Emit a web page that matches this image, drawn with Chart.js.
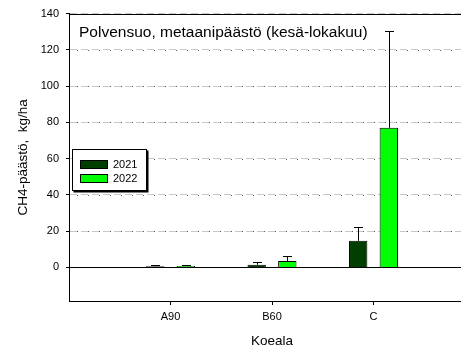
<!DOCTYPE html>
<html>
<head>
<meta charset="utf-8">
<script src="https://cdn.jsdelivr.net/npm/chart.js@4/dist/chart.umd.min.js"></script>
<style>
  html, body { margin: 0; padding: 0; background: #fff; overflow: hidden; }
  #wrap { width: 461px; height: 350px; overflow: hidden; }
  canvas { display: block; }
</style>
</head>
<body>
<div id="wrap"><canvas id="c" width="520" height="350"></canvas></div>
<script>
// Methane emission per plot, summer–autumn, two seasons
const categories = ['A90', 'B60', 'C'];
const seriesNames = ['2021', '2022'];
const mean2021 = [0.6, 1.5, 14.7];
const mean2022 = [0.8, 3.5, 77.0];
const err2021 = [0.5, 1.5, 7.5];
const err2022 = [0.5, 3.0, 53.6];
const yTicks = [0, 20, 40, 60, 80, 100, 120, 140];

const FONT = '"Liberation Sans", Arial, Helvetica, sans-serif';
const DARK = '#003f00';
const BRIGHT = '#00ff00';

// empty slots on both sides leave a full category of space around the groups
const labels = [''].concat(categories, ['']);
const pad = arr => [null].concat(arr, [null]);

const errors = [pad(err2021), pad(err2022)];

// upward standard-error whiskers with a short cap
const errorBars = {
  id: 'errorBars',
  afterDatasetsDraw(chart) {
    const ctx = chart.ctx;
    const y = chart.scales.y;
    ctx.save();
    ctx.strokeStyle = '#000';
    ctx.lineWidth = 1;
    chart.data.datasets.forEach((ds, di) => {
      const meta = chart.getDatasetMeta(di);
      meta.data.forEach((bar, i) => {
        const v = ds.data[i];
        const e = errors[di][i];
        if (v == null || e == null) return;
        const x = Math.round(bar.x) + 0.5;
        const y0 = y.getPixelForValue(v);
        const y1 = Math.round(y.getPixelForValue(v + e)) + 0.5;
        ctx.beginPath();
        ctx.moveTo(x, y0);
        ctx.lineTo(x, y1);
        ctx.moveTo(x - 4.5, y1);
        ctx.lineTo(x + 4.5, y1);
        ctx.stroke();
      });
    });
    ctx.restore();
  }
};

// dash-dot accents on the grid, solid zero line, frame top edge, title and legend
const decorations = {
  id: 'decorations',
  beforeDatasetsDraw(chart) {
    const {ctx, chartArea} = chart;
    const y = chart.scales.y;
    ctx.save();
    ctx.strokeStyle = '#5a5a5a';
    ctx.lineWidth = 1;
    ctx.setLineDash([1, 10]);
    ctx.lineDashOffset = -8;
    y.ticks.forEach(t => {
      if (t.value === 0 || t.value === 140) return;
      const py = Math.round(y.getPixelForValue(t.value)) + 0.5;
      ctx.beginPath();
      ctx.moveTo(chartArea.left, py);
      ctx.lineTo(chartArea.right, py);
      ctx.stroke();
    });
    ctx.setLineDash([]);
    const y0 = Math.round(y.getPixelForValue(0)) + 0.5;
    ctx.strokeStyle = '#000';
    ctx.beginPath();
    ctx.moveTo(chartArea.left, y0);
    ctx.lineTo(chartArea.right, y0);
    ctx.stroke();
    ctx.restore();
  },
  afterDraw(chart) {
    const {ctx, chartArea} = chart;
    ctx.save();
    ctx.strokeStyle = '#000';
    ctx.lineWidth = 1;
    const top = Math.round(chartArea.top) + 0.5;
    ctx.beginPath();
    ctx.moveTo(chartArea.left, top);
    ctx.lineTo(chartArea.right, top);
    ctx.stroke();

    // title
    ctx.fillStyle = '#000';
    ctx.font = '15.5px ' + FONT;
    ctx.textBaseline = 'middle';
    ctx.textAlign = 'left';
    ctx.fillText('Polvensuo, metaanipäästö (kesä-lokakuu)', 79, 33);

    // legend box with a thin drop shadow
    const bx = 72.5, by = 149.5, bw = 74, bh = 41;
    ctx.fillStyle = '#000';
    ctx.fillRect(bx + 1, by + 1, bw + 1, bh + 1);
    ctx.fillStyle = '#fff';
    ctx.fillRect(bx, by, bw, bh);
    ctx.strokeRect(bx, by, bw, bh);
    ctx.font = '11px ' + FONT;
    chart.data.datasets.forEach((ds, i) => {
      const sy = 160.5 + i * 14;
      ctx.fillStyle = ds.backgroundColor;
      ctx.fillRect(80.5, sy, 27, 8);
      ctx.strokeRect(80.5, sy, 27, 8);
      ctx.fillStyle = '#000';
      ctx.fillText(ds.label, 113, sy + 4.5);
    });
    ctx.restore();
  }
};

new Chart(document.getElementById('c'), {
  type: 'bar',
  data: {
    labels: labels,
    datasets: [
      { label: seriesNames[0], data: pad(mean2021), backgroundColor: DARK, borderColor: '#000', borderWidth: 1 },
      { label: seriesNames[1], data: pad(mean2022), backgroundColor: BRIGHT, borderColor: '#000', borderWidth: 1 }
    ]
  },
  options: {
    responsive: false,
    animation: false,
    events: [],
    categoryPercentage: 0.603,
    barPercentage: 0.6,
    layout: { padding: { top: 7, right: 45, bottom: 0, left: 0 } },
    plugins: { legend: { display: false }, tooltip: { enabled: false }, title: { display: false } },
    scales: {
      x: {
        offset: false,
        grid: {
          offset: false,
          drawOnChartArea: false,
          drawTicks: true,
          tickLength: 4,
          tickColor: ctx => (ctx.tick && ctx.tick.label ? '#000' : 'rgba(0,0,0,0)'),
          tickBorderDash: []
        },
        border: { display: true, color: '#000', width: 1 },
        ticks: { color: '#000', font: { family: FONT, size: 11 }, padding: 5, maxRotation: 0, autoSkip: false },
        title: { display: true, text: 'Koeala', color: '#000', font: { family: FONT, size: 13.5 }, padding: { top: 0, bottom: 1 } },
        afterFit(scale) { scale.height = 49; }
      },
      y: {
        min: -18.5,
        max: 140,
        afterBuildTicks(scale) { scale.ticks = yTicks.map(v => ({ value: v })); },
        grid: {
          color: '#c8c8c8',
          lineWidth: 1,
          drawTicks: true,
          tickLength: 3,
          tickColor: '#000',
          tickBorderDash: []
        },
        border: { display: true, color: '#000', width: 1, dash: [7, 4] },
        ticks: { color: '#000', font: { family: FONT, size: 11 }, padding: 7 },
        title: { display: true, text: 'CH4-päästö,  kg/ha', color: '#000', font: { family: FONT, size: 13.5 }, padding: { top: 15, bottom: 0 } },
        afterFit(scale) { scale.width = 69; }
      }
    }
  },
  plugins: [errorBars, decorations]
});
</script>
</body>
</html>
